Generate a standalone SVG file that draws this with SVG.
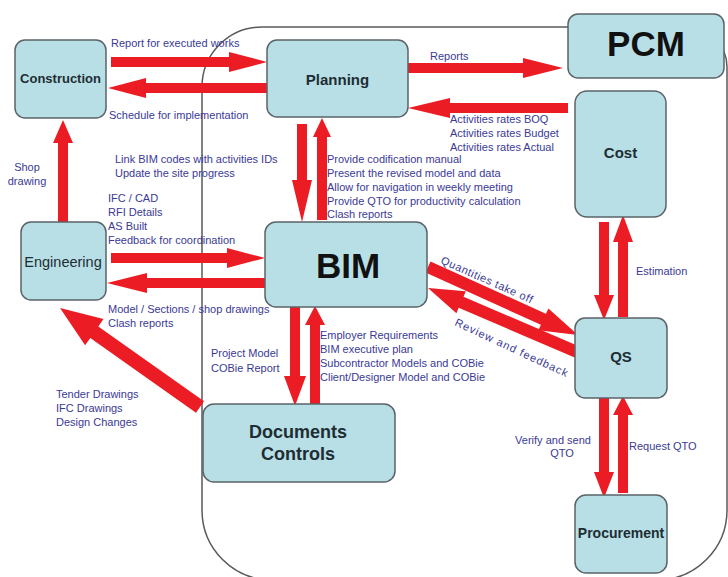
<svg xmlns="http://www.w3.org/2000/svg" width="728" height="577" viewBox="0 0 728 577">
<style>
.node{fill:#b8dfe6;stroke:#5a6468;stroke-width:1.5}
.nt{font-family:"Liberation Sans",Arial,sans-serif;font-weight:bold;fill:#1e2d33;text-anchor:middle}
.lb{font-family:"Liberation Sans",Arial,sans-serif;font-size:11px;fill:#3a3a96}
.ar{fill:#ec1c24;stroke:none}
</style>
<rect width="728" height="577" fill="#ffffff"/>
<path d="M262 27 L687 27 A40 40 0 0 1 727 67 L727 510 A70 70 0 0 1 657 580 L272 580 A70 70 0 0 1 202 510 L202 87 A60 60 0 0 1 262 27 Z" fill="none" stroke="#5a5a5a" stroke-width="1.5"/>
<g id="connectors">
<polygon class="ar" points="111,57 229,57 229,52 267,62 229,72 229,67 111,67"/>
<polygon class="ar" points="267,83 146,83 146,78 108,88 146,98 146,93 267,93"/>
<polygon class="ar" points="408,63 523,63 523,58 563,68 523,78 523,73 408,73"/>
<polygon class="ar" points="568,103 450,103 450,98 408,108 450,118 450,113 568,113"/>
<polygon class="ar" points="297,124 307,124 307,180 312,180 302,222 292,180 297,180"/>
<polygon class="ar" points="317,220 327,220 327,137 331,137 322,118 313,137 317,137"/>
<polygon class="ar" points="58,222 68,222 68,143 73,143 63,120 53,143 58,143"/>
<polygon class="ar" points="111,253 227,253 227,248 265,258 227,268 227,263 111,263"/>
<polygon class="ar" points="265,278 147,278 147,273 107,283 147,293 147,288 265,288"/>
<polygon class="ar" points="60,308 103.5,319.1 98.3,326.5 204,401.3 196,412.7 90.3,337.9 85.1,345.3"/>
<polygon class="ar" points="290,307 300,307 300,376 306,376 295,406 284,376 290,376"/>
<polygon class="ar" points="310,404 320,404 320,325 325,325 315,306 305,325 310,325"/>
<polygon class="ar" points="430.5,261.5 545.9,313.8 548.4,308.4 578,335 538.4,330.2 540.9,324.8 425.5,272.5"/>
<polygon class="ar" points="428,288 465.8,291.2 463.5,296.7 579.4,346.5 574.6,357.5 458.7,307.7 456.4,313.2"/>
<polygon class="ar" points="599,222 609,222 609,295 614,295 604,320 594,295 599,295"/>
<polygon class="ar" points="618,317 628,317 628,242 633,242 623,215 613,242 618,242"/>
<polygon class="ar" points="599,398 609,398 609,472 614,472 604,498 594,472 599,472"/>
<polygon class="ar" points="618,493 628,493 628,415 633,415 623,396 613,415 618,415"/>
</g>
<g id="labels">
<text class="lb" x="111" y="47">Report for executed works</text>
<text class="lb" x="109" y="119">Schedule for implementation</text>
<text class="lb" x="27" y="171" text-anchor="middle">Shop</text>
<text class="lb" x="27" y="185" text-anchor="middle">drawing</text>
<text class="lb" x="115" y="163">Link BIM codes with activities IDs</text>
<text class="lb" x="115" y="177">Update the site progress</text>
<text class="lb" x="108" y="202">IFC / CAD</text>
<text class="lb" x="108" y="216">RFI Details</text>
<text class="lb" x="108" y="230">AS Built</text>
<text class="lb" x="108" y="244">Feedback for coordination</text>
<text class="lb" x="108" y="313">Model / Sections / shop drawings</text>
<text class="lb" x="108" y="327">Clash reports</text>
<text class="lb" x="211" y="357">Project Model</text>
<text class="lb" x="211" y="372">COBie Report</text>
<text class="lb" x="56" y="398">Tender Drawings</text>
<text class="lb" x="56" y="412">IFC Drawings</text>
<text class="lb" x="56" y="426">Design Changes</text>
<text class="lb" x="430" y="60">Reports</text>
<text class="lb" x="450" y="123">Activities rates BOQ</text>
<text class="lb" x="450" y="137">Activities rates Budget</text>
<text class="lb" x="450" y="151">Activities rates Actual</text>
<text class="lb" x="327" y="163">Provide codification manual</text>
<text class="lb" x="327" y="177">Present the revised model and data</text>
<text class="lb" x="327" y="191">Allow for navigation in weekly meeting</text>
<text class="lb" x="327" y="205">Provide QTO for productivity calculation</text>
<text class="lb" x="327" y="218">Clash reports</text>
<text class="lb" x="320" y="339">Employer Requirements</text>
<text class="lb" x="320" y="353">BIM executive plan</text>
<text class="lb" x="320" y="367">Subcontractor Models and COBie</text>
<text class="lb" x="320" y="381">Client/Designer Model and COBie</text>
<text class="lb" x="440" y="263" letter-spacing="0.6" transform="rotate(24 440 263)">Quantities take off</text>
<text class="lb" x="454" y="325" letter-spacing="1" transform="rotate(25 454 325)">Review and feedback</text>
<text class="lb" x="636" y="275">Estimation</text>
<text class="lb" x="553" y="444" text-anchor="middle">Verify and send</text>
<text class="lb" x="562" y="457" text-anchor="middle">QTO</text>
<text class="lb" x="629" y="450">Request QTO</text>
</g>
<g id="construction"><rect class="node" x="15" y="40" width="91" height="78" rx="10"/><text class="nt" x="60.5" y="83" font-size="13">Construction</text></g>
<g id="planning"><rect class="node" x="267" y="40" width="141" height="77" rx="10"/><text class="nt" x="337.5" y="85" font-size="15">Planning</text></g>
<g id="pcm"><rect class="node" x="568" y="14" width="156" height="64" rx="10"/><text class="nt" x="646" y="56" font-size="35" style="fill:#111">PCM</text></g>
<g id="cost"><rect class="node" x="575" y="91" width="91" height="126" rx="12"/><text class="nt" x="620.5" y="158" font-size="15">Cost</text></g>
<g id="engineering"><rect class="node" x="21" y="222" width="85" height="78" rx="10"/><text class="nt" x="63" y="267" font-size="14.5" style="font-weight:normal">Engineering</text></g>
<g id="bim"><rect class="node" x="265" y="222" width="162" height="85" rx="11"/><text class="nt" x="348" y="278" font-size="35" style="fill:#111">BIM</text></g>
<g id="qs"><rect class="node" x="575" y="318" width="92" height="80" rx="10"/><text class="nt" x="621" y="362" font-size="15">QS</text></g>
<g id="documents-controls"><rect class="node" x="203" y="404" width="192" height="78" rx="11"/><text class="nt" x="298" y="438" font-size="18">Documents</text><text class="nt" x="298" y="460" font-size="18">Controls</text></g>
<g id="procurement"><rect class="node" x="575" y="495" width="92" height="78" rx="11"/><text class="nt" x="621" y="538" font-size="14">Procurement</text></g>
</svg>
